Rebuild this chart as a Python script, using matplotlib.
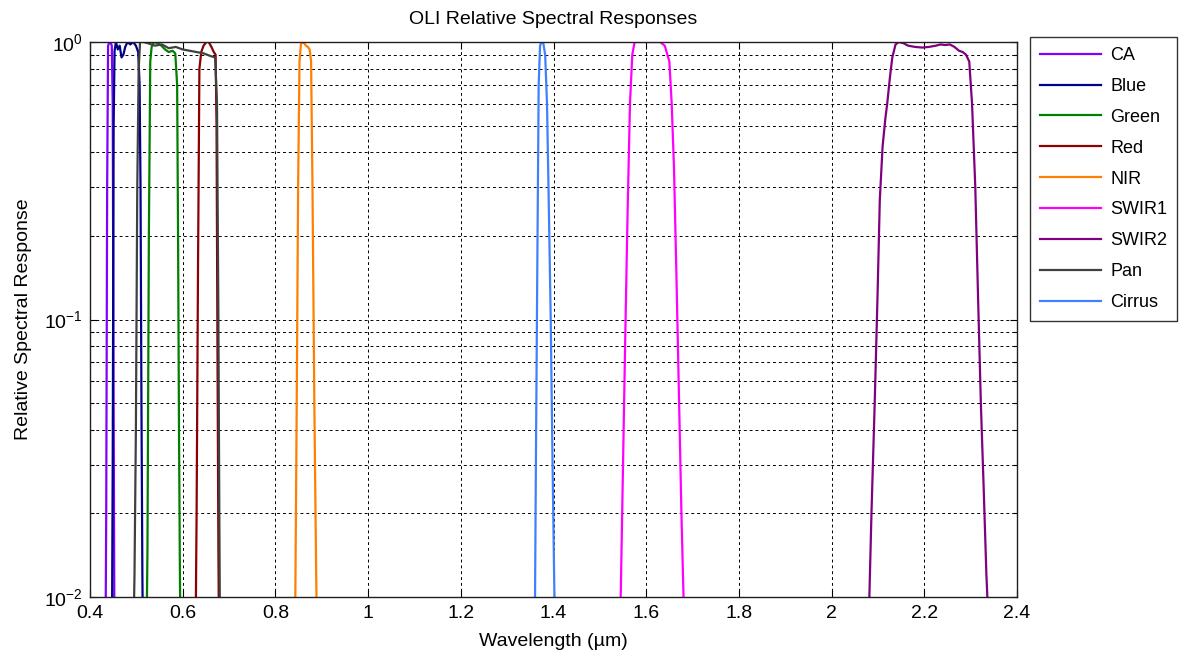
import numpy as np
from matplotlib import pyplot as plt
from matplotlib.ticker import LogLocator, NullFormatter

plt.rcParams['font.family'] = ['Liberation Sans', 'DejaVu Sans']
plt.rcParams['mathtext.fontset'] = 'custom'
plt.rcParams['mathtext.rm'] = 'Liberation Sans'
plt.rcParams['mathtext.it'] = 'Liberation Sans'

# Band responses (wavelength in um, relative response)
ca_wl = [0.433, 0.435, 0.437, 0.439, 0.442, 0.445, 0.447, 0.449, 0.451, 0.453]
ca_rsr = [0.005, 0.02, 0.3, 0.97, 1.0, 0.99, 0.97, 0.6, 0.05, 0.005]

blue_wl = [0.447, 0.449, 0.451, 0.453, 0.456, 0.460, 0.464, 0.468, 0.472, 0.476,
           0.481, 0.487, 0.493, 0.499, 0.504, 0.507, 0.509, 0.511, 0.513, 0.515]
blue_rsr = [0.005, 0.03, 0.5, 0.93, 1.0, 0.94, 0.97, 0.88, 0.9, 0.96,
            1.0, 0.98, 1.0, 0.97, 0.92, 0.7, 0.3, 0.05, 0.012, 0.005]

green_wl = [0.521, 0.524, 0.527, 0.530, 0.533, 0.538, 0.546, 0.554, 0.562, 0.570,
            0.578, 0.584, 0.588, 0.590, 0.592, 0.594, 0.596]
green_rsr = [0.005, 0.015, 0.2, 0.85, 0.96, 1.0, 0.99, 0.97, 0.94, 0.92,
             0.93, 0.91, 0.7, 0.2, 0.04, 0.012, 0.005]

red_wl = [0.627, 0.630, 0.633, 0.636, 0.640, 0.645, 0.651, 0.656, 0.662, 0.667,
          0.671, 0.673, 0.675, 0.677, 0.679]
red_rsr = [0.005, 0.02, 0.15, 0.8, 0.92, 0.97, 1.0, 1.0, 0.96, 0.92,
           0.9, 0.5, 0.08, 0.015, 0.005]

nir_wl = [0.840, 0.843, 0.846, 0.849, 0.852, 0.855, 0.858, 0.862, 0.866, 0.870,
          0.874, 0.877, 0.880, 0.884, 0.888, 0.891]
nir_rsr = [0.005, 0.01, 0.05, 0.3, 0.85, 0.98, 1.0, 0.99, 0.97, 0.96,
           0.94, 0.85, 0.3, 0.05, 0.012, 0.005]

swir1_wl = [1.540, 1.545, 1.550, 1.555, 1.560, 1.565, 1.570, 1.575, 1.585, 1.600,
            1.615, 1.630, 1.640, 1.650, 1.655, 1.660, 1.665, 1.670, 1.676, 1.682, 1.687]
swir1_rsr = [0.005, 0.01, 0.03, 0.09, 0.25, 0.6, 0.9, 1.0, 1.0, 1.0,
             1.0, 1.0, 0.97, 0.85, 0.6, 0.35, 0.15, 0.06, 0.02, 0.008, 0.005]

swir2_wl = [2.076, 2.080, 2.086, 2.093, 2.099, 2.104, 2.110, 2.116, 2.120, 2.126,
            2.131, 2.138, 2.145, 2.155, 2.165, 2.180, 2.195, 2.210, 2.225, 2.235,
            2.245, 2.255, 2.265, 2.275, 2.283, 2.290, 2.297, 2.303, 2.310, 2.316,
            2.322, 2.328, 2.334, 2.340, 2.345]
swir2_rsr = [0.005, 0.008, 0.02, 0.05, 0.12, 0.27, 0.42, 0.53, 0.6, 0.75,
             0.88, 0.98, 1.0, 0.99, 0.97, 0.96, 0.955, 0.96, 0.97, 0.98,
             0.975, 0.98, 0.96, 0.93, 0.92, 0.9, 0.85, 0.6, 0.3, 0.12,
             0.05, 0.025, 0.012, 0.007, 0.005]

pan_wl = [0.492, 0.496, 0.499, 0.502, 0.505, 0.508, 0.515, 0.525, 0.540, 0.555,
          0.570, 0.585, 0.600, 0.615, 0.630, 0.645, 0.660, 0.670, 0.674, 0.677,
          0.679, 0.681]
pan_rsr = [0.005, 0.012, 0.04, 0.3, 0.8, 1.0, 1.0, 0.99, 0.97, 0.98,
           0.95, 0.96, 0.94, 0.93, 0.92, 0.91, 0.89, 0.88, 0.6, 0.1,
           0.02, 0.005]

cirrus_wl = [1.358, 1.360, 1.362, 1.365, 1.368, 1.371, 1.374, 1.378, 1.382, 1.386,
             1.390, 1.394, 1.398, 1.402, 1.405]
cirrus_rsr = [0.005, 0.009, 0.03, 0.15, 0.7, 0.97, 1.0, 0.99, 0.9, 0.6,
              0.25, 0.1, 0.03, 0.01, 0.005]

band_names = ['CA', 'Blue', 'Green', 'Red', 'NIR', 'SWIR1', 'SWIR2', 'Pan', 'Cirrus']
band_wl = [ca_wl, blue_wl, green_wl, red_wl, nir_wl, swir1_wl, swir2_wl, pan_wl, cirrus_wl]
band_rsr = [ca_rsr, blue_rsr, green_rsr, red_rsr, nir_rsr, swir1_rsr, swir2_rsr, pan_rsr, cirrus_rsr]
band_colors = ['#7f00ff', '#00008b', '#008000', '#8b0000', '#ff7f00',
               '#ff00ff', '#800080', '#404040', '#4080ff']

xtick_vals = [0.4, 0.6, 0.8, 1.0, 1.2, 1.4, 1.6, 1.8, 2.0, 2.2, 2.4]
xtick_labels = ['0.4', '0.6', '0.8', '1', '1.2', '1.4', '1.6', '1.8', '2', '2.2', '2.4']

fig = plt.figure(figsize=(11.82, 6.56), dpi=100)
ax = fig.add_axes([90/1182, 1 - 597/656, (1017 - 90)/1182, (597 - 42)/656])

for wl, rsr, name, col in zip(band_wl, band_rsr, band_names, band_colors):
    ax.plot(wl, rsr, color=col, lw=1.6, label=name)

ax.set_yscale('log')
ax.set_xlim(0.4, 2.4)
ax.set_ylim(0.01, 1.0)
ax.set_xticks(xtick_vals)
ax.set_xticklabels(xtick_labels)
ax.yaxis.set_major_locator(LogLocator(base=10, numticks=5))
ax.yaxis.set_minor_locator(LogLocator(base=10, subs=np.arange(2, 10), numticks=20))
ax.yaxis.set_minor_formatter(NullFormatter())

ax.grid(True, which='both', axis='y', color='black', ls=(0, (3, 3)), lw=0.7)
ax.grid(True, which='major', axis='x', color='black', ls=(0, (3, 3)), lw=0.7)

ax.tick_params(which='both', direction='in', top=True, right=True, labelsize=14, width=0.8)
ax.tick_params(which='major', length=5)
ax.tick_params(axis='x', pad=6)
ax.tick_params(axis='y', pad=5)
ax.tick_params(which='minor', length=3)
for sp in ax.spines.values():
    sp.set_linewidth(1.0)
    sp.set_color('#202020')

ax.set_title('OLI Relative Spectral Responses', fontsize=14, pad=13)
ax.set_xlabel('Wavelength (\u00b5m)', fontsize=14, labelpad=8)
ax.set_ylabel('Relative Spectral Response', fontsize=14, labelpad=9)

leg = ax.legend(loc='upper left', bbox_to_anchor=(1030/1182, 1 - 37/656),
                bbox_transform=fig.transFigure, borderaxespad=0, fontsize=13,
                frameon=True, fancybox=False, edgecolor='black', handlelength=3.4,
                labelspacing=0.77, handletextpad=0.5, borderpad=0.55)
leg.get_frame().set_linewidth(1.0)

plt.savefig('out.png', dpi=100)
